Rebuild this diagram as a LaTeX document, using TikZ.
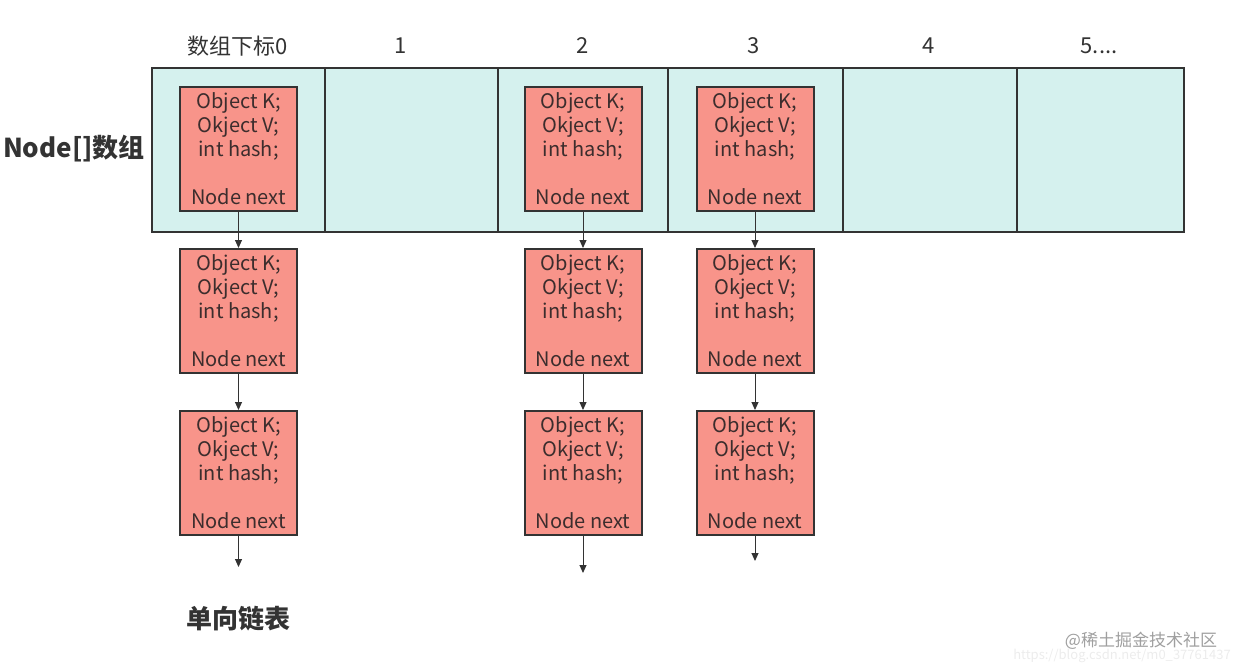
\documentclass[tikz,border=0pt]{standalone}
\usepackage{fontspec}
\setmainfont{Noto Sans CJK SC}
\usetikzlibrary{arrows.meta}
\definecolor{cellfill}{RGB}{213,241,238}
\definecolor{boxfill}{RGB}{248,148,138}
\definecolor{edge}{RGB}{51,51,51}
\definecolor{ink}{RGB}{60,45,45}
\tikzset{
  cell/.style={draw=edge, line width=2pt, fill=cellfill, minimum height=164pt, inner sep=0pt, anchor=north west},
  entry/.style={draw=edge, line width=2pt, fill=boxfill, minimum width=117pt, minimum height=124pt,
    inner sep=0pt, align=center, text=ink, font=\fontsize{20}{24}\selectfont},
  idx/.style={text=edge, font=\fontsize{22}{24}\selectfont},
  link/.style={draw=edge, line width=1pt, -{Triangle[length=8pt,width=7pt]}},
  big/.style={text=edge, font=\fontsize{26}{30}\selectfont\bfseries}
}
\newcommand{\entrytext}{Object K;\\Okject V;\\int hash;\\[24pt]Node next}
\begin{document}
\begin{tikzpicture}[x=1pt,y=-1pt]
\useasboundingbox (0,0) rectangle (1240,672);
% array cells
\node[cell, minimum width=173pt] (c0) at (151,67) {};
\node[cell, minimum width=173pt] (c1) at (324,67) {};
\node[cell, minimum width=170pt] (c2) at (497,67) {};
\node[cell, minimum width=175pt] (c3) at (667,67) {};
\node[cell, minimum width=174pt] (c4) at (842,67) {};
\node[cell, minimum width=167pt] (c5) at (1016,67) {};
% index labels
\node[idx] (l0) at (238,46) {数组下标0};
\node[idx] (l1) at (401,46) {1};
\node[idx] (l2) at (583,46) {2};
\node[idx] (l3) at (754,46) {3};
\node[idx] (l4) at (929,46) {4};
\node[idx] (l5) at (1099,46) {5....};
\node[big] (arr) at (74,149) {Node[]数组};
% entries
\foreach \c/\x in {a/238.5,b/583,c/755}{
  \node[entry] (\c1) at (\x,149) {\entrytext};
  \node[entry] (\c2) at (\x,311) {\entrytext};
  \node[entry] (\c3) at (\x,473) {\entrytext};
}
\coordinate (aend) at (238.5,567);
\coordinate (bend) at (583,573);
\coordinate (cend) at (755,561);
\foreach \c in {a,b,c}{
  \draw[link] (\c1.south) -- (\c2.north);
  \draw[link] (\c2.south) -- (\c3.north);
  \draw[link] (\c3.south) -- (\c end);
}
\node[big] (list) at (238,619) {单向链表};
% watermark
\node[text=gray!75, font=\fontsize{17}{20}\selectfont] (wm) at (1141,641) {@稀土掘金技术社区};
\node[text=gray!15, font=\fontsize{13}{16}\selectfont] (wm2) at (1122,656) {https://blog.csdn.net/m0\_37761437};
\end{tikzpicture}
\end{document}
